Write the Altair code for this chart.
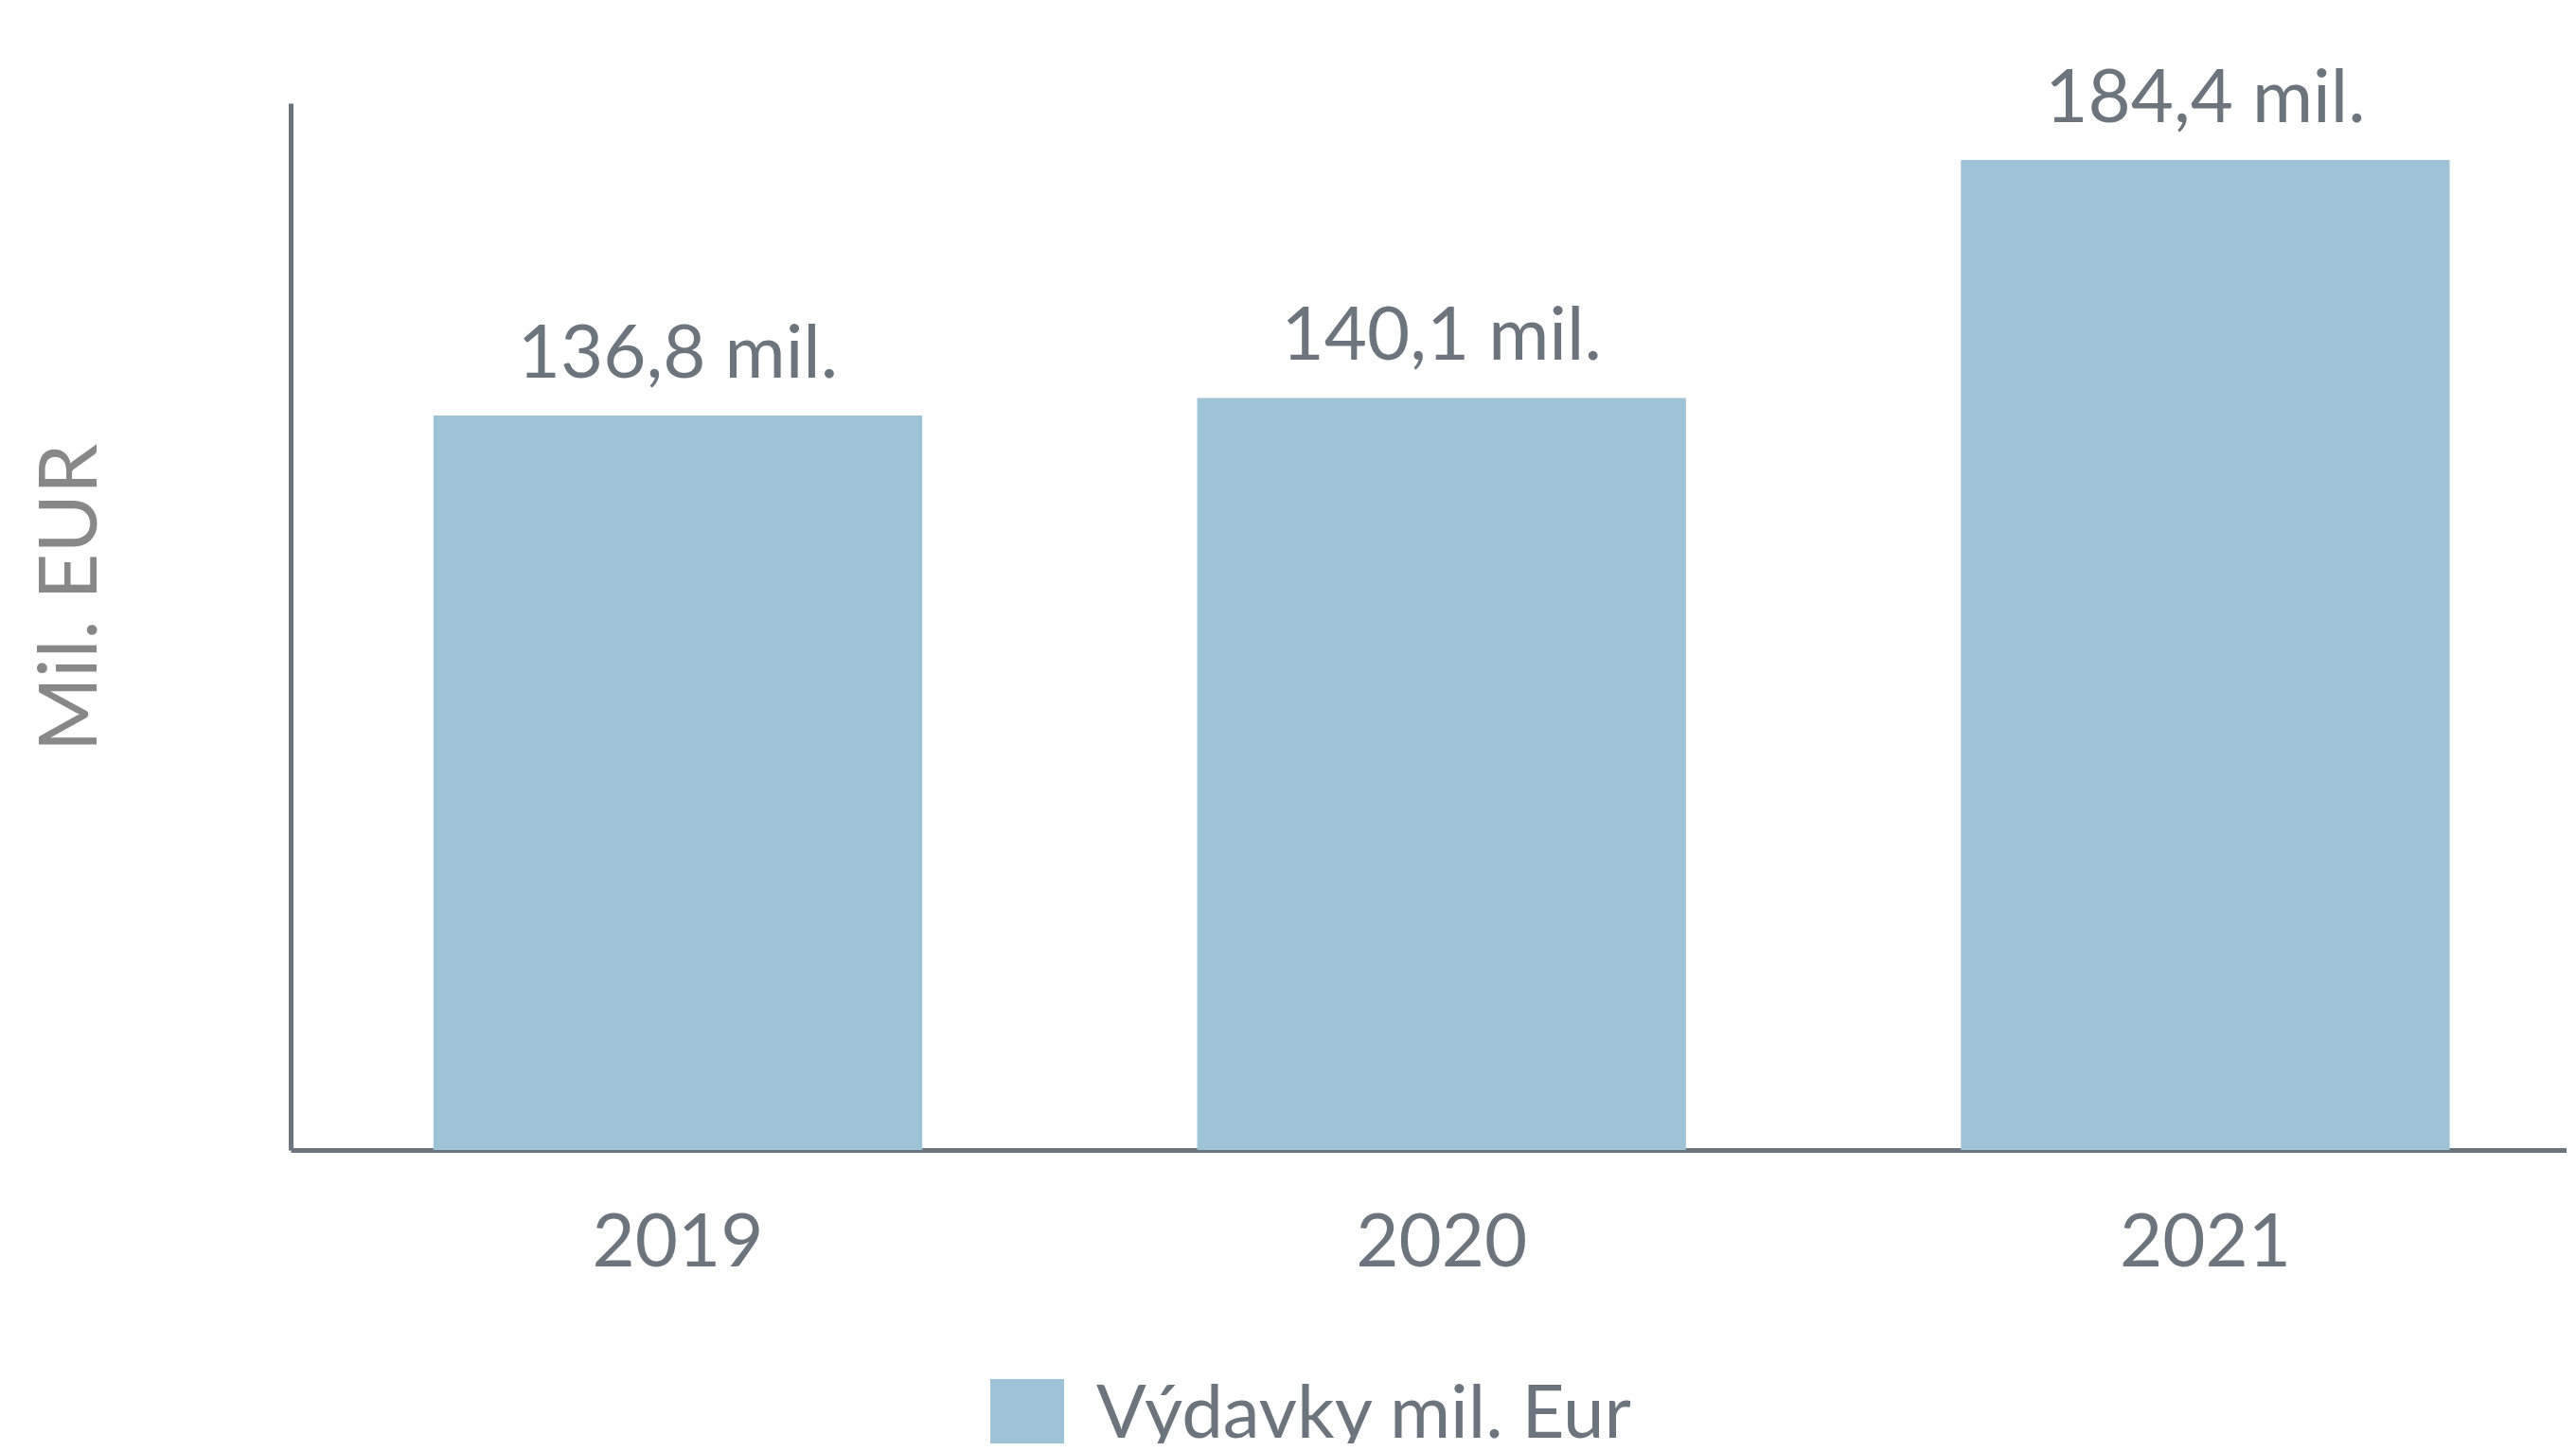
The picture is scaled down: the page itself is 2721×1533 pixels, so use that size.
import altair as alt
import pandas as pd

years = ["2019", "2020", "2021"]
values = [136.8, 140.1, 184.4]
value_labels = ["136,8 mil.", "140,1 mil.", "184,4 mil."]
series_name = "Výdavky mil. Eur"

df = pd.DataFrame({
    "year": years,
    "value": values,
    "label": value_labels,
    "series": [series_name] * len(years),
})

TEXT = "#6c757d"
BAR = "#9ec3d7"
FONT = "Lato"

x_enc = alt.X(
    "year:N",
    sort=years,
    scale=alt.Scale(paddingInner=0.36, paddingOuter=0.17, align=0.55),
    axis=alt.Axis(
        title=None, labelAngle=0, labelFontSize=78, labelColor=TEXT, labelFont=FONT,
        labelPadding=60, labelLimit=0, ticks=False, tickSize=0, domainColor=TEXT,
        domainWidth=5, grid=False,
    ),
)
y_enc = alt.Y(
    "value:Q",
    scale=alt.Scale(domain=[0, 195], nice=False, zero=True),
    axis=alt.Axis(
        title="Mil. EUR", labels=False, ticks=False, tickSize=0, grid=False,
        domainColor=TEXT, domainWidth=5,
        titleFontSize=85, titleColor="#888888", titleFont=FONT, titleFontWeight="normal",
        titleX=-206, titleY=522, titleAngle=270, titleAlign="center", titleBaseline="alphabetic",
    ),
)

bars = alt.Chart(df).mark_bar().encode(
    x=x_enc,
    y=y_enc,
    color=alt.Color(
        "series:N",
        scale=alt.Scale(range=[BAR]),
        legend=alt.Legend(
            title=None, orient="none", legendX=739, legendY=1348,
            symbolType="square", symbolSize=6084, symbolStrokeWidth=0, symbolOpacity=1,
            labelFontSize=78, labelColor=TEXT, labelFont=FONT, labelOffset=34, labelLimit=0,
        ),
    ),
)

texts = alt.Chart(df).mark_text(
    dy=-40, baseline="alphabetic", align="center", fontSize=78, color=TEXT, font=FONT
).encode(x=x_enc, y=y_enc, text="label:N")

chart = alt.layer(bars, texts).properties(
    width=2404,
    height=1106,
    autosize=alt.AutoSizeParams(type="none"),
    padding={"left": 299, "top": 101, "right": 0, "bottom": 310},
).configure_view(stroke=None)

chart.save("out.html", embed_options={"renderer": "svg", "actions": False})
